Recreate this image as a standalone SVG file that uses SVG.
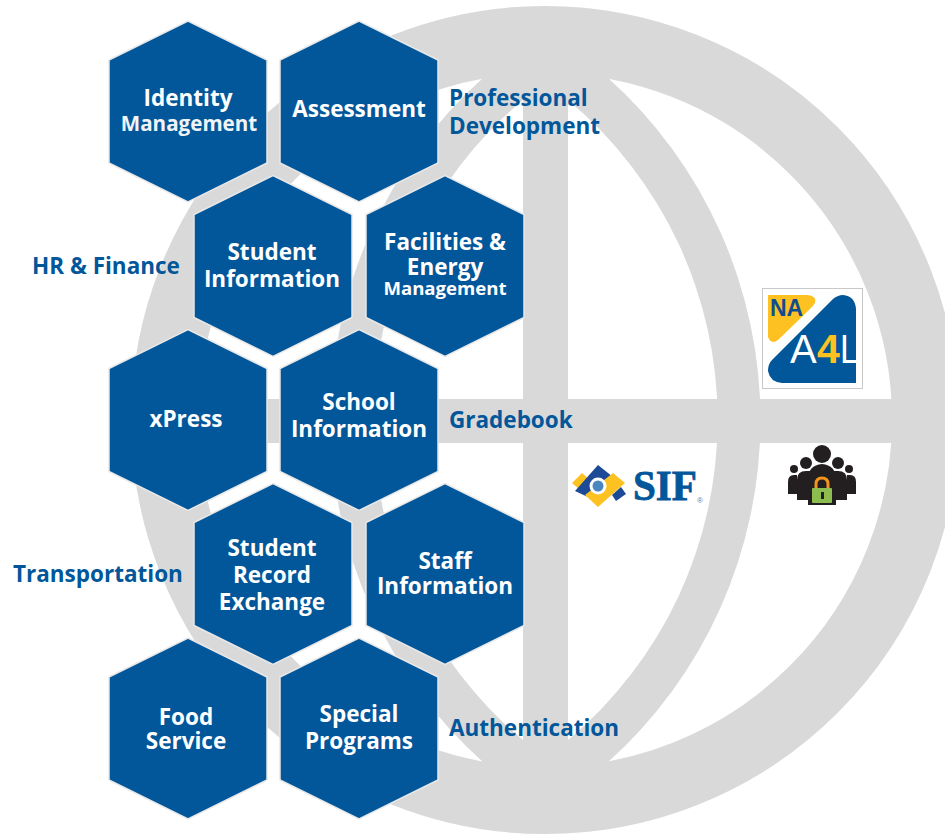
<svg xmlns="http://www.w3.org/2000/svg" width="945" height="834" viewBox="0 0 945 834">
<style>
.g{fill:#d9d9d9}
.hex{fill:#02569a;stroke:#e8e8e8;stroke-width:1.5}
.t{font-family:"Open Sans",sans-serif;font-weight:700;font-size:22.500px;fill:#fff;text-anchor:middle}
.s{font-size:20.600px;fill:#f1f4f7}
.l{font-family:"Open Sans",sans-serif;font-weight:700;font-size:22.500px;fill:#02569a}
</style>
<defs>
<polygon id="h" class="hex" points="0,-90.500 79,-51.500 79,51.500 0,90.500 -79,51.500 -79,-51.500"/>
<path id="band" class="g" d="M607 77A460 460 0 0 1 607 763L607 785L568 785L568 740A417 417 0 0 0 568 100L568 55L607 55Z"/>
</defs>
<rect width="945" height="834" fill="#fff"/>
<g id="globe">
<circle cx="545" cy="420" r="380.500" fill="none" stroke="#d9d9d9" stroke-width="67"/>
<use href="#band"/>
<use href="#band" transform="translate(1091 0) scale(-1 1)"/>
<rect class="g" x="523" y="50" width="45" height="740"/>
<rect class="g" x="190" y="399" width="710" height="44"/>
</g>
<g id="logo-a4l">
<rect x="762.500" y="288.500" width="100" height="100" fill="#fff" stroke="#c8c8c8"/>
<path d="M768 295H808Q817 296 815 303Q813 306 810 309L778 340Q771 345 768 337Z" fill="#fdc221"/>
<path d="M843 295Q855 296 856 309V383H782Q770 382 768 371Q768 364 772 360L833 299Q838 295 843 295Z" fill="#02569a"/>
<text x="770" y="316" font-family="Liberation Sans,sans-serif" font-weight="700" font-size="23" fill="#0f4c91">NA</text>
<text x="790" y="363" font-family="Liberation Sans,sans-serif" font-size="40" fill="#fff">A</text>
<text x="817" y="363" font-family="Liberation Sans,sans-serif" font-weight="700" font-size="41" fill="#fdc221">4</text>
<text x="840" y="363" font-family="Liberation Sans,sans-serif" font-size="41" fill="#fff" textLength="19" lengthAdjust="spacingAndGlyphs">L</text>
</g>
<g id="logo-lock">
<g fill="#231f20">
<circle cx="822" cy="454" r="9"/><circle cx="806" cy="463" r="6"/><circle cx="838" cy="463" r="6"/><circle cx="794" cy="469" r="4"/><circle cx="849" cy="469" r="4"/>
<path d="M788 494V482Q788 475 794 475H797V494Z"/><path d="M856 494V482Q856 475 850 475H847V494Z"/>
<path d="M797 500V480Q797 471 806 471H812V500Z"/><path d="M847 500V480Q847 471 838 471H832V500Z"/>
<path d="M808 505V480Q808 465 822 464Q836 465 836 480V505Z"/>
</g>
<path d="M816 489V484Q816 478 822 478Q828 478 828 484V489" fill="none" stroke="#f5941d" stroke-width="3"/>
<rect x="812" y="488" width="20" height="15" rx="1" fill="#8dbd4f"/>
<rect x="821" y="492" width="3" height="7" fill="#231f20"/>
</g>
<g id="logo-sif">
<path d="M572 483L582 473L590 480L580 490Z" fill="#fdc221"/>
<path d="M575 491L598 465L613 477L590 498Z" fill="#1d4a96"/>
<path d="M585 495L613 473L625 483L598 507Z" fill="#fdc221"/>
<path d="M612 495L621 487L626 494L616 501Z" fill="#1d4a96"/>
<circle cx="598" cy="486" r="8.500" fill="#fff"/><circle cx="598" cy="486" r="5.500" fill="#4a86c0"/>
<text x="633" y="500" font-family="Liberation Serif,serif" font-weight="700" font-size="43" fill="#02569a" stroke="#02569a" stroke-width=".8" textLength="64" lengthAdjust="spacingAndGlyphs">SIF</text>
<text x="697" y="503" font-family="Liberation Sans,sans-serif" font-size="8" fill="#4a86c0">®</text>
</g>
<g id="labels">
<text class="l" x="449" y="106">Professional</text>
<text class="l" x="449" y="134">Development</text>
<text class="l" x="32" y="274">HR &amp; Finance</text>
<text class="l" x="449" y="428">Gradebook</text>
<text class="l" x="13" y="582">Transportation</text>
<text class="l" x="449" y="736">Authentication</text>
</g>
<g id="identity-management"><use href="#h" x="188" y="111.500"/><text class="t" x="188" y="106">Identity</text><text class="t s" x="189" y="131">Management</text></g>
<g id="assessment"><use href="#h" x="359" y="111.500"/><text class="t" x="359" y="117">Assessment</text></g>
<g id="student-information"><use href="#h" x="273" y="266"/><text class="t" x="272" y="260">Student</text><text class="t" x="272" y="287">Information</text></g>
<g id="facilities"><use href="#h" x="445" y="266"/><text class="t" x="445" y="250">Facilities &amp;</text><text class="t" x="445" y="275">Energy</text><text class="t" x="445" y="295" style="font-size:18.600px">Management</text></g>
<g id="xpress"><use href="#h" x="188" y="420"/><text class="t" x="186" y="427">xPress</text></g>
<g id="school-information"><use href="#h" x="359" y="420"/><text class="t" x="359" y="410">School</text><text class="t" x="359" y="437">Information</text></g>
<g id="student-record-exchange"><use href="#h" x="273" y="574"/><text class="t" x="272" y="556">Student</text><text class="t" x="272" y="583">Record</text><text class="t" x="272" y="610">Exchange</text></g>
<g id="staff-information"><use href="#h" x="445" y="574"/><text class="t" x="445" y="569">Staff</text><text class="t" x="445" y="594">Information</text></g>
<g id="food-service"><use href="#h" x="188" y="728.500"/><text class="t" x="186" y="725">Food</text><text class="t" x="186" y="749">Service</text></g>
<g id="special-programs"><use href="#h" x="359" y="728.500"/><text class="t" x="359" y="722">Special</text><text class="t" x="359" y="749">Programs</text></g>
</svg>
